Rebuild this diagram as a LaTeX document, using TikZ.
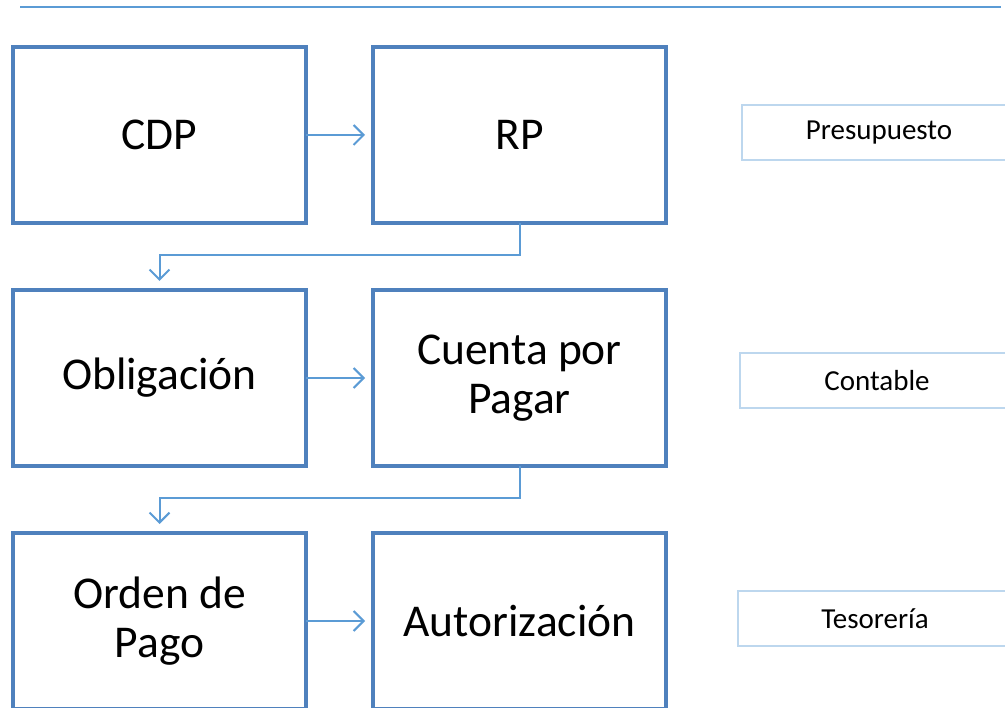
\documentclass[tikz,border=0pt]{standalone}
\usepackage{fontspec}
\setmainfont{Carlito}
\usetikzlibrary{arrows.meta}
\definecolor{boxblue}{RGB}{79,129,189}
\definecolor{linkblue}{RGB}{91,155,213}
\definecolor{tagblue}{RGB}{189,215,238}

\begin{document}
\begin{tikzpicture}[x=1pt, y=-1pt,
    paso/.style={draw=boxblue, line width=4pt, minimum width=293pt, minimum height=176pt,
      inner sep=0pt, outer sep=0pt, align=center, font=\fontsize{45.5}{49}\selectfont},
    area/.style={draw=tagblue, line width=1.5pt, minimum width=274pt, minimum height=55pt,
      inner sep=0pt, font=\fontsize{29}{34}\selectfont},
    flecha/.style={draw=linkblue, line width=2pt,
      -{Straight Barb[length=10pt, width=20pt, line width=2pt]}}]
  \useasboundingbox (0,0) rectangle (1005,708);
  \clip (0,0) rectangle (1005,708);

  % top rule
  \draw[linkblue, line width=2pt] (20,7) -- (1001,7);

  % steps
  \node[paso] (cdp) at (159.5,135) {CDP};
  \node[paso] (rp) at (519.5,135) {RP};
  \node[paso] (obl) at (159.5,378) {Obligación};
  \node[paso] (cxp) at (519.5,378) {Cuenta por\\Pagar};
  \node[paso] (op) at (159.5,621) {Orden de\\Pago};
  \node[paso] (aut) at (519.5,621) {Autorización};

  % areas
  \node[area] (pres) at (879,132.5) {\raisebox{-1.5pt}{Presupuesto}};
  \node[area] (cont) at (877,380.5) {Contable};
  \node[area] (teso) at (875,618.5) {Tesorería};

  % links
  \draw[flecha, shorten >=8pt] (cdp) -- (rp);
  \draw[flecha, shorten >=8pt] (obl) -- (cxp);
  \draw[flecha, shorten >=8pt] (op) -- (aut);
  \draw[flecha, shorten >=9pt] (rp.south) -- ++(0,32) -| (obl.north);
  \draw[flecha, shorten >=9pt] (cxp.south) -- ++(0,32) -| (op.north);
\end{tikzpicture}
\end{document}
